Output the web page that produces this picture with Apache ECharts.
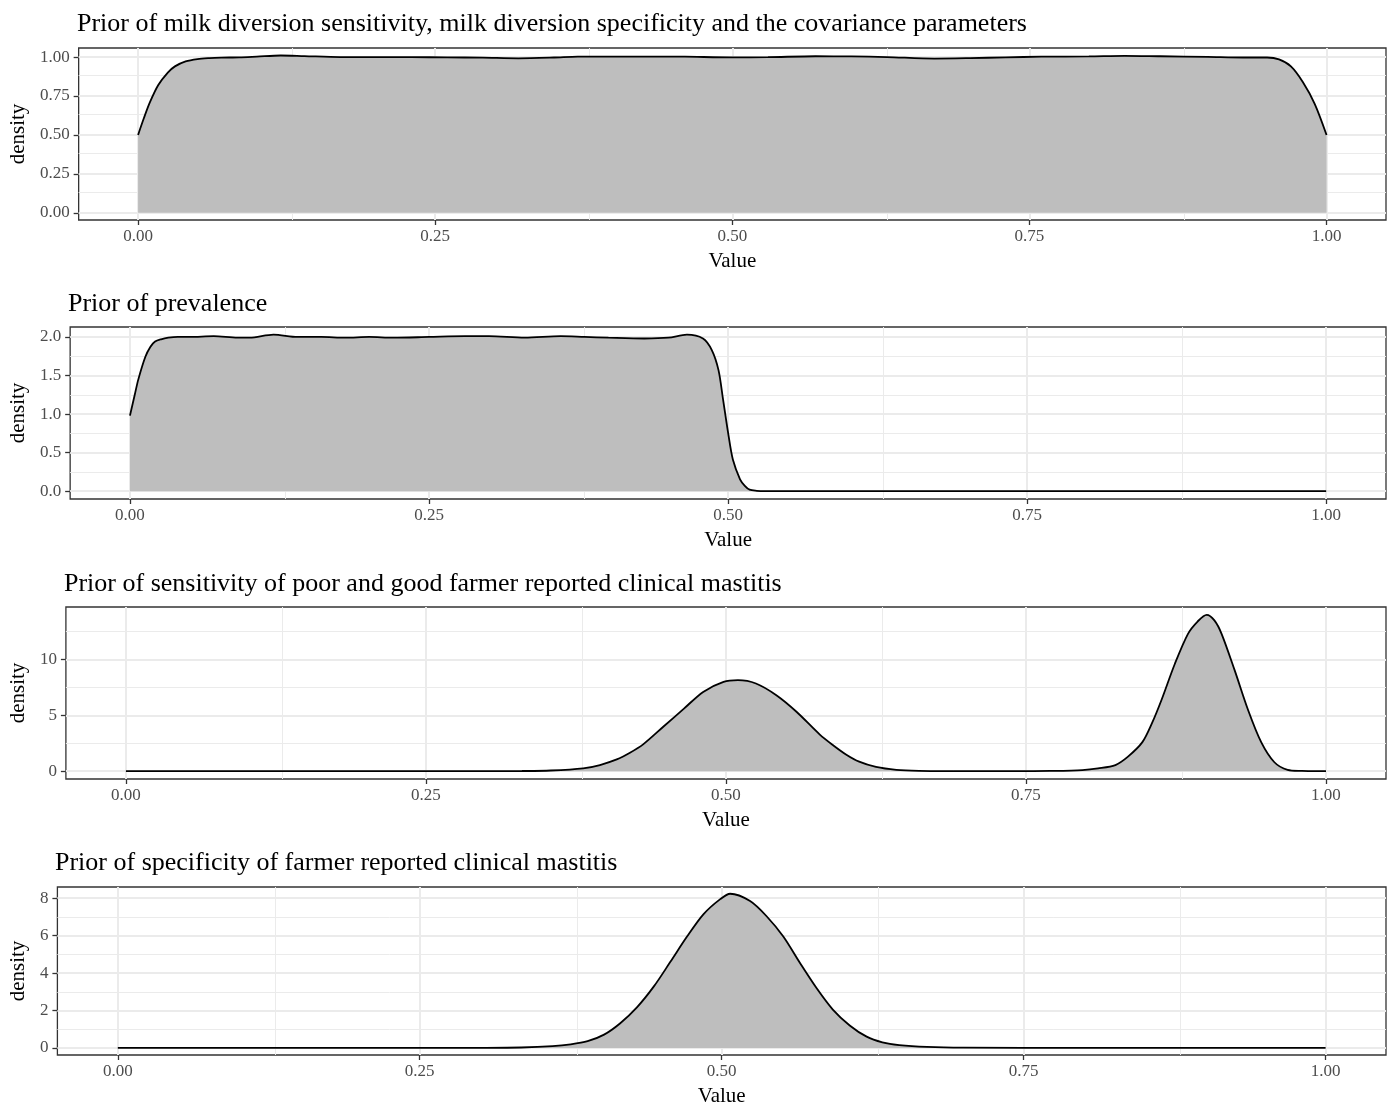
<!DOCTYPE html>
<html>
<head>
<meta charset="utf-8">
<script src="https://cdn.jsdelivr.net/npm/echarts@6/dist/echarts.min.js"></script>
<style>
html,body{margin:0;padding:0;background:#fff;}
#chart{width:1392px;height:1108px;}
</style>
</head>
<body>
<div id="chart"></div>
<script>
// ---- Data ----
const titles = [
  "Prior of milk diversion sensitivity, milk diversion specificity and the covariance parameters",
  "Prior of prevalence",
  "Prior of sensitivity of poor and good farmer reported clinical mastitis",
  "Prior of specificity of farmer reported clinical mastitis"
];
const xTicks = [0, 0.25, 0.5, 0.75, 1];
const xMinor = [0.125, 0.375, 0.625, 0.875];

// Panel 1: milk diversion Se/Sp & covariance
const x1 = [0, 0.005, 0.01, 0.017, 0.025, 0.031, 0.04, 0.05, 0.06, 0.07, 0.085, 0.1, 0.12, 0.14, 0.17, 0.2, 0.23, 0.26, 0.29, 0.32, 0.35, 0.37, 0.4, 0.43, 0.46, 0.5, 0.53, 0.57, 0.6, 0.63, 0.67, 0.7, 0.73, 0.76, 0.8, 0.83, 0.86, 0.9, 0.93, 0.95, 0.96, 0.97, 0.98, 0.99, 1.0];
const d1 = [0.5, 0.61, 0.71, 0.82, 0.9, 0.94, 0.972, 0.987, 0.993, 0.996, 0.998, 1.003, 1.01, 1.006, 1.0, 1.0, 0.999, 0.998, 0.996, 0.992, 0.997, 1.003, 1.002, 1.003, 1.002, 0.998, 0.999, 1.005, 1.004, 1.0, 0.99, 0.993, 0.998, 1.002, 1.004, 1.008, 1.005, 1.001, 0.997, 0.997, 0.985, 0.94, 0.84, 0.7, 0.5];
const yTicks1 = [0, 0.25, 0.5, 0.75, 1];
const yMinor1 = [0.125, 0.375, 0.625, 0.875];

// Panel 2: prevalence
const x2 = [0, 0.004, 0.007, 0.0128, 0.017, 0.021, 0.026, 0.032, 0.04, 0.05, 0.07, 0.09, 0.1, 0.12, 0.14, 0.16, 0.18, 0.2, 0.22, 0.25, 0.28, 0.3, 0.33, 0.36, 0.38, 0.4, 0.43, 0.45, 0.4656, 0.479, 0.4864, 0.492, 0.4958, 0.5, 0.504, 0.51, 0.514, 0.518, 0.524, 0.53, 0.55, 0.6, 0.7, 0.8, 0.9, 1.0];
const d2 = [0.98, 1.25, 1.45, 1.74, 1.87, 1.94, 1.97, 1.99, 2.0, 2.0, 2.01, 1.99, 1.99, 2.03, 2.0, 2.0, 1.99, 2.0, 1.99, 2.0, 2.01, 2.01, 1.99, 2.01, 2.0, 1.99, 1.98, 1.99, 2.03, 1.98, 1.83, 1.57, 1.19, 0.76, 0.41, 0.155, 0.07, 0.02, 0.005, 0, 0, 0, 0, 0, 0, 0];
const yTicks2 = [0, 0.5, 1, 1.5, 2];
const yMinor2 = [0.25, 0.75, 1.25, 1.75];

// Panel 3: sensitivity of poor and good farmer reported CM
const x3 = [0, 0.1, 0.2, 0.3, 0.33, 0.354, 0.381, 0.395, 0.409, 0.42, 0.431, 0.448, 0.465, 0.481, 0.498, 0.51, 0.525, 0.542, 0.559, 0.578, 0.589, 0.6, 0.611, 0.625, 0.642, 0.661, 0.69, 0.72, 0.75, 0.77, 0.797, 0.81, 0.8245, 0.835, 0.847, 0.855, 0.863, 0.874, 0.885, 0.893, 0.9006, 0.907, 0.913, 0.924, 0.935, 0.946, 0.957, 0.968, 0.98, 0.99, 1.0];
const d3 = [0, 0, 0, 0.003, 0.015, 0.06, 0.25, 0.55, 1.05, 1.65, 2.4, 4.0, 5.6, 7.1, 8.0, 8.15, 7.85, 6.8, 5.3, 3.3, 2.35, 1.5, 0.85, 0.38, 0.12, 0.03, 0.005, 0, 0.003, 0.02, 0.1, 0.25, 0.55, 1.3, 2.6, 4.3, 6.4, 9.6, 12.3, 13.4, 14.0, 13.5, 12.3, 9.0, 5.5, 2.6, 0.8, 0.12, 0.02, 0.003, 0];
const yTicks3 = [0, 5, 10];
const yMinor3 = [2.5, 7.5, 12.5];

// Panel 4: specificity of farmer reported CM
const x4 = [0, 0.1, 0.2, 0.3, 0.334, 0.36, 0.375, 0.389, 0.4026, 0.416, 0.43, 0.444, 0.4575, 0.4713, 0.485, 0.4988, 0.507, 0.5235, 0.537, 0.551, 0.5647, 0.5785, 0.592, 0.606, 0.62, 0.633, 0.647, 0.67, 0.7, 0.8, 0.9, 1.0];
const d4 = [0, 0, 0, 0.005, 0.02, 0.09, 0.19, 0.36, 0.71, 1.32, 2.18, 3.3, 4.6, 5.95, 7.15, 7.95, 8.24, 7.85, 7.05, 5.95, 4.55, 3.2, 2.05, 1.2, 0.6, 0.3, 0.15, 0.05, 0.01, 0, 0, 0];
const yTicks4 = [0, 2, 4, 6, 8];
const yMinor4 = [1, 3, 5, 7];

// ---- Layout / style ----
const FONT = "'Liberation Serif', 'Times New Roman', serif";
const panels = [
  {x: x1, d: d1, yt: yTicks1, ym: yMinor1, ymin: -0.046, ymax: 1.058, dec: 2, left: 77, top: 48, titleTop: 11, nameGap: 46},
  {x: x2, d: d2, yt: yTicks2, ym: yMinor2, ymin: -0.101, ymax: 2.129, dec: 1, left: 68, top: 327, titleTop: 291, nameGap: 37},
  {x: x3, d: d3, yt: yTicks3, ym: yMinor3, ymin: -0.7, ymax: 14.7, dec: 0, left: 64, top: 607, titleTop: 571, nameGap: 33},
  {x: x4, d: d4, yt: yTicks4, ym: yMinor4, ymin: -0.38, ymax: 8.6, dec: 0, left: 55, top: 887, titleTop: 850, nameGap: 24}
];
const PH = 172;

const grid = [], xAxis = [], yAxis = [], series = [], title = [];
panels.forEach((p, i) => {
  title.push({
    text: titles[i], left: p.left, top: p.titleTop, padding: 0,
    textStyle: {fontFamily: FONT, fontSize: 26, fontWeight: 'normal', color: '#000'}
  });
  grid.push({
    left: p.left, top: p.top, right: 6, height: PH,
    show: true, borderColor: '#333', borderWidth: 1.3, backgroundColor: '#fff', containLabel: false
  });
  xAxis.push({
    type: 'value', gridIndex: i, min: -0.05, max: 1.05,
    name: 'Value', nameLocation: 'middle', nameGap: 31,
    nameTextStyle: {fontFamily: FONT, fontSize: 21, color: '#000'},
    axisLine: {show: false, onZero: false},
    axisTick: {show: true, length: 5, lineStyle: {color: '#333', width: 1.3}, customValues: xTicks},
    axisLabel: {show: true, customValues: xTicks, margin: 8, fontFamily: FONT, fontSize: 17, color: '#4d4d4d',
      formatter: v => Number(v).toFixed(2)},
    splitLine: {show: false}
  });
  yAxis.push({
    type: 'value', gridIndex: i, min: p.ymin, max: p.ymax,
    name: 'density', nameLocation: 'middle', nameGap: p.nameGap,
    nameTextStyle: {fontFamily: FONT, fontSize: 21, color: '#000'},
    axisLine: {show: false, onZero: false},
    axisTick: {show: true, length: 5, lineStyle: {color: '#333', width: 1.3}, customValues: p.yt},
    axisLabel: {show: true, customValues: p.yt, margin: 9, fontFamily: FONT, fontSize: 17, color: '#4d4d4d',
      formatter: v => Number(v).toFixed(p.dec)},
    splitLine: {show: false}
  });
  const gl = [];
  xMinor.forEach(v => gl.push({xAxis: v, lineStyle: {color: '#ebebeb', width: 1, type: 'solid'}}));
  p.ym.forEach(v => gl.push({yAxis: v, lineStyle: {color: '#ebebeb', width: 1, type: 'solid'}}));
  xTicks.forEach(v => gl.push({xAxis: v, lineStyle: {color: '#ebebeb', width: 2, type: 'solid'}}));
  p.yt.forEach(v => gl.push({yAxis: v, lineStyle: {color: '#ebebeb', width: 2, type: 'solid'}}));
  series.push({
    type: 'line', xAxisIndex: i, yAxisIndex: i, data: [], silent: true, z: 1,
    markLine: {silent: true, symbol: ['none', 'none'], label: {show: false}, animation: false, z: 1, data: gl}
  });
  series.push({
    type: 'line', xAxisIndex: i, yAxisIndex: i, z: 3,
    data: p.x.map((xv, k) => [xv, p.d[k]]),
    showSymbol: false, smooth: 0.3,
    lineStyle: {color: '#000', width: 1.8},
    areaStyle: {color: '#bebebe', opacity: 1},
    silent: true
  });
});

const chart = echarts.init(document.getElementById('chart'), null, {renderer: 'canvas'});
chart.setOption({animation: false, backgroundColor: '#fff', title, grid, xAxis, yAxis, series});
</script>
</body>
</html>
